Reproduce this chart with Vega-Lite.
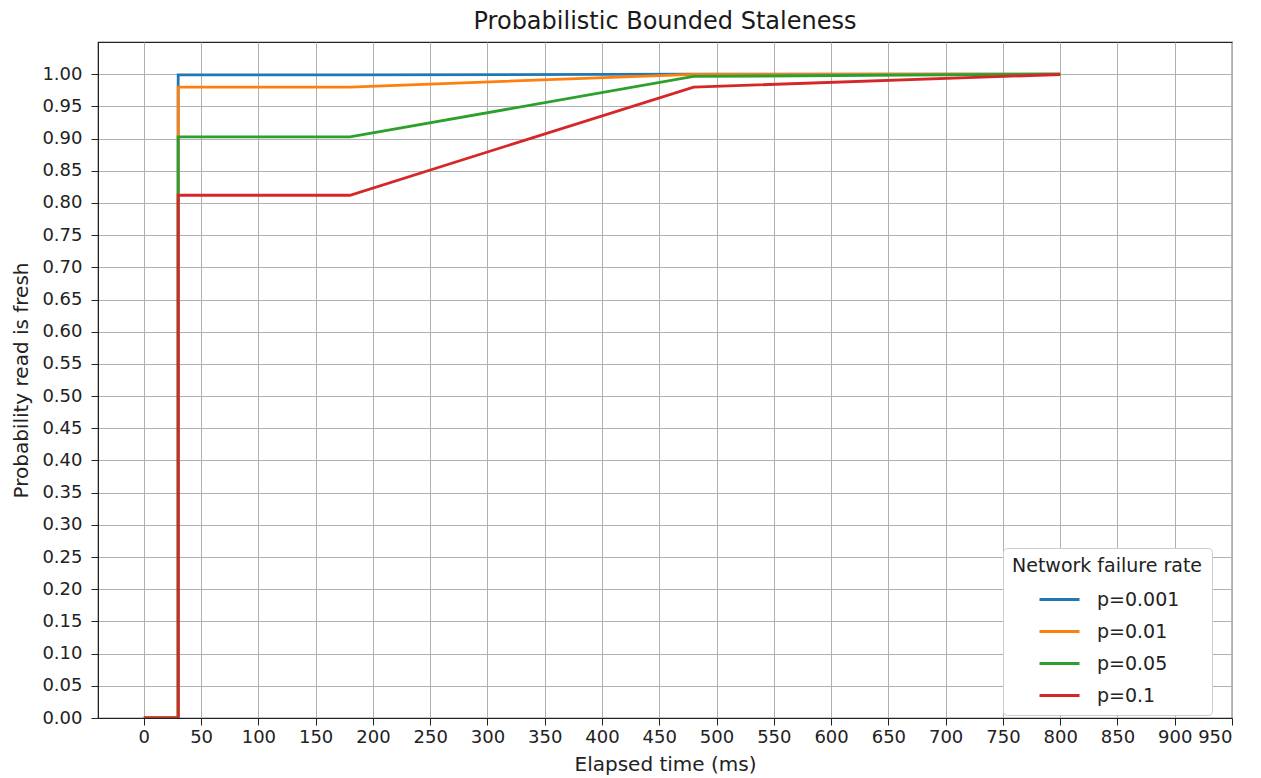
{
  "$schema": "https://vega.github.io/schema/vega-lite/v6.json",
  "width": 1134,
  "height": 676,
  "autosize": {"type": "none"},
  "padding": {"left": 98, "top": 42, "right": 29, "bottom": 60},
  "background": "white",
  "title": {
    "text": "Probabilistic Bounded Staleness",
    "font": "DejaVu Sans",
    "fontSize": 24,
    "fontWeight": "normal",
    "color": "#1a1a1a",
    "offset": 8,
    "anchor": "middle"
  },
  "config": {
    "view": {"stroke": "#222", "strokeWidth": 1.2},
    "axis": {
      "labelFont": "DejaVu Sans",
      "labelFontSize": 18,
      "labelColor": "#222",
      "titleFont": "DejaVu Sans",
      "titleFontSize": 20,
      "titleFontWeight": "normal",
      "titleColor": "#222",
      "gridColor": "#b0b0b0",
      "gridWidth": 1,
      "gridOpacity": 1,
      "domainColor": "#222",
      "tickColor": "#222",
      "tickSize": 7
    }
  },
  "data": {
    "values": [
      {"p": "p=0.001", "ord": 0, "t": 0, "prob": 0},
      {"p": "p=0.001", "ord": 1, "t": 30, "prob": 0},
      {"p": "p=0.001", "ord": 2, "t": 30, "prob": 0.999},
      {"p": "p=0.001", "ord": 3, "t": 180, "prob": 0.999},
      {"p": "p=0.001", "ord": 4, "t": 480, "prob": 1.0},
      {"p": "p=0.001", "ord": 5, "t": 800, "prob": 1.0},
      {"p": "p=0.01", "ord": 0, "t": 0, "prob": 0},
      {"p": "p=0.01", "ord": 1, "t": 30, "prob": 0},
      {"p": "p=0.01", "ord": 2, "t": 30, "prob": 0.98},
      {"p": "p=0.01", "ord": 3, "t": 180, "prob": 0.98},
      {"p": "p=0.01", "ord": 4, "t": 480, "prob": 0.9998},
      {"p": "p=0.01", "ord": 5, "t": 800, "prob": 1.0},
      {"p": "p=0.05", "ord": 0, "t": 0, "prob": 0},
      {"p": "p=0.05", "ord": 1, "t": 30, "prob": 0},
      {"p": "p=0.05", "ord": 2, "t": 30, "prob": 0.9025},
      {"p": "p=0.05", "ord": 3, "t": 180, "prob": 0.9025},
      {"p": "p=0.05", "ord": 4, "t": 480, "prob": 0.9965},
      {"p": "p=0.05", "ord": 5, "t": 800, "prob": 1.0},
      {"p": "p=0.1", "ord": 0, "t": 0, "prob": 0},
      {"p": "p=0.1", "ord": 1, "t": 30, "prob": 0},
      {"p": "p=0.1", "ord": 2, "t": 30, "prob": 0.812},
      {"p": "p=0.1", "ord": 3, "t": 180, "prob": 0.812},
      {"p": "p=0.1", "ord": 4, "t": 480, "prob": 0.98},
      {"p": "p=0.1", "ord": 5, "t": 800, "prob": 0.9995}
    ]
  },
  "mark": {"type": "line", "strokeWidth": 2.8, "clip": true},
  "encoding": {
    "x": {
      "field": "t",
      "type": "quantitative",
      "title": "Elapsed time (ms)",
      "scale": {"domain": [-40, 950], "nice": false, "zero": false},
      "axis": {
        "values": [0, 50, 100, 150, 200, 250, 300, 350, 400, 450, 500, 550, 600, 650, 700, 750, 800, 850, 900, 950],
        "labelPadding": 3,
        "titlePadding": 8
      }
    },
    "y": {
      "field": "prob",
      "type": "quantitative",
      "title": "Probability read is fresh",
      "scale": {"domain": [0, 1.05], "nice": false},
      "axis": {
        "values": [0, 0.05, 0.1, 0.15, 0.2, 0.25, 0.3, 0.35, 0.4, 0.45, 0.5, 0.55, 0.6, 0.65, 0.7, 0.75, 0.8, 0.85, 0.9, 0.95, 1.0],
        "format": ".2f",
        "labelPadding": 9,
        "titlePadding": 10
      }
    },
    "color": {
      "field": "p",
      "type": "nominal",
      "scale": {
        "domain": ["p=0.001", "p=0.01", "p=0.05", "p=0.1"],
        "range": ["#1f77b4", "#ff7f0e", "#2ca02c", "#d62728"]
      },
      "legend": {
        "title": "Network failure rate",
        "orient": "none",
        "legendX": 905,
        "legendY": 506,
        "titleFont": "DejaVu Sans",
        "titleFontSize": 19,
        "titleFontWeight": "normal",
        "titleColor": "#222",
        "titleLimit": 400,
        "titlePadding": 2,
        "labelFont": "DejaVu Sans",
        "labelFontSize": 19,
        "labelColor": "#222",
        "symbolType": "stroke",
        "symbolSize": 1600,
        "symbolStrokeWidth": 2.8,
        "symbolOffset": 26,
        "rowPadding": -16,
        "labelOffset": 16,
        "padding": 9,
        "fillColor": "white",
        "strokeColor": "#cccccc",
        "cornerRadius": 4,
        "offset": 0
      }
    },
    "order": {"field": "ord", "type": "quantitative"}
  }
}
